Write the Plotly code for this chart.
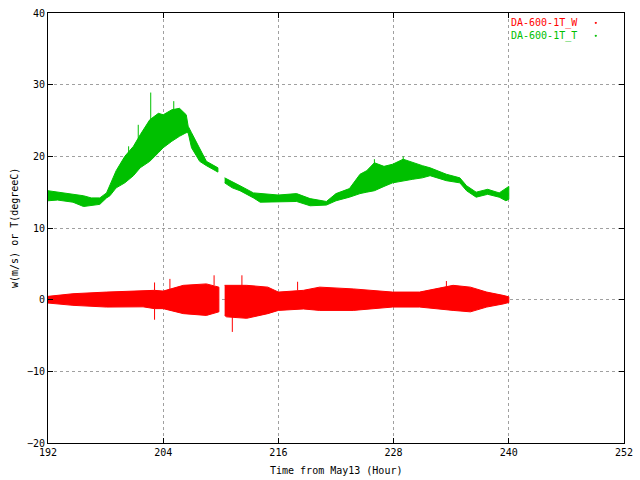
import plotly.graph_objects as go

# T series (green): band of the noisy trace
t_hours = [192.0, 193.0, 194.6, 195.7, 196.5, 197.4, 198.1, 198.45, 199.1, 200.0,
           200.9, 201.6, 202.6, 203.5, 204.0, 204.9, 205.7, 206.4, 206.6, 206.95,
           207.8, 208.5, 209.7, 209.9, 210.4, 211.2, 212.0, 213.4, 214.1, 215.4,
           216.0, 217.9, 219.3, 221.0, 222.0, 223.4, 224.5, 225.2, 226.0, 227.0,
           227.9, 229.0, 230.0, 231.0, 231.8, 233.5, 234.9, 235.6, 236.6, 237.8,
           239.0, 239.7, 240.0]
t_low = [13.8, 13.9, 13.6, 13.0, 13.1, 13.3, 14.2, 14.5, 15.6, 16.3,
         17.3, 18.4, 19.3, 20.5, 21.2, 22.1, 22.8, 23.3, 23.3, 21.2,
         19.3, 18.7, 17.8, None, 16.3, 15.6, 15.2, 14.2, 13.6, 13.6,
         13.6, 13.7, 13.1, 13.2, 13.8, 14.3, 14.8, 15.0, 15.2, 15.8,
         16.3, 16.6, 16.8, 17.0, 17.3, 16.6, 16.3, 15.2, 14.3, 14.7,
         14.3, 13.8, 14.0]
t_high = [15.2, 15.0, 14.7, 14.5, 14.2, 14.2, 14.9, 15.9, 18.0, 20.0,
          21.4, 23.0, 25.1, 26.0, 25.8, 26.5, 26.7, 25.8, 24.2, 23.3,
          21.2, 19.3, 18.4, None, 17.0, 16.5, 15.9, 14.9, 14.8, 14.6,
          14.6, 14.8, 14.1, 13.7, 14.8, 15.5, 17.5, 18.0, 19.1, 18.6,
          18.9, 19.6, 19.1, 18.7, 18.4, 17.5, 17.0, 15.9, 15.0, 15.4,
          14.9, 15.6, 15.8]

# W series (red)
w_hours = [192.0, 194.6, 198.1, 201.9, 203.1, 204.0, 206.1, 208.5, 209.8, 209.9,
           210.4, 210.6, 212.7, 214.9, 216.0, 218.6, 220.3, 223.8, 227.9, 230.7,
           234.2, 236.0, 237.7, 239.4, 240.0]
w_low = [-0.47, -0.79, -1.03, -1.0, -1.25, -1.25, -1.95, -2.2, -1.7, None,
         -2.2, -2.4, -2.6, -1.95, -1.5, -1.3, -1.5, -1.5, -1.03, -1.03,
         -1.5, -1.7, -1.03, -0.6, -0.4]
w_high = [0.46, 0.83, 1.06, 1.3, 1.3, 1.2, 2.0, 2.2, 1.75, None,
          2.0, 2.0, 2.0, 1.75, 1.06, 1.3, 1.75, 1.5, 1.06, 1.06,
          2.0, 1.75, 1.06, 0.6, 0.4]

# isolated spikes sticking out of the bands
t_spike_hours = [200.4, 201.4, 202.7, 205.1, 226.0, 229.0]
t_spike_base = [20.0, 22.5, 25.0, 26.5, 18.5, 19.0]
t_spike_top = [21.4, 24.4, 28.9, 27.7, 19.6, 20.0]
w_spike_hours = [203.1, 203.1, 204.7, 209.3, 211.2, 212.2, 218.0, 233.5]
w_spike_base = [1.3, -1.25, 1.2, 2.0, -2.4, 2.0, 1.3, 1.8]
w_spike_top = [2.4, -2.8, 2.9, 3.4, -4.5, 3.4, 2.5, 2.6]

x_ticks = [192, 204, 216, 228, 240, 252]
y_ticks = [-20, -10, 0, 10, 20, 30, 40]

RED = "#ff0000"
GREEN = "#00c000"
FONT = "DejaVu Sans Mono"


def segments(hours, lo, hi):
    """split a band at the None gaps"""
    segs, cur = [], ([], [], [])
    for h, a, b in zip(hours, lo, hi):
        if a is None or b is None:
            if cur[0]:
                segs.append(cur)
            cur = ([], [], [])
            continue
        cur[0].append(h)
        cur[1].append(a)
        cur[2].append(b)
    if cur[0]:
        segs.append(cur)
    return segs


def spikes(hours, base, top):
    xs, ys = [], []
    for h, b, t in zip(hours, base, top):
        xs += [h, h, None]
        ys += [b, t, None]
    return xs, ys


fig = go.Figure()

for hours, lo, hi, col in [(w_hours, w_low, w_high, RED), (t_hours, t_low, t_high, GREEN)]:
    for hs, los, his in segments(hours, lo, hi):
        fig.add_trace(go.Scatter(x=hs + hs[::-1], y=his + los[::-1], mode="lines",
                                 fill="toself", fillcolor=col,
                                 line=dict(color=col, width=1),
                                 showlegend=False, hoverinfo="skip"))

for hours, base, top, col in [(w_spike_hours, w_spike_base, w_spike_top, RED),
                              (t_spike_hours, t_spike_base, t_spike_top, GREEN)]:
    sx, sy = spikes(hours, base, top)
    fig.add_trace(go.Scatter(x=sx, y=sy, mode="lines", line=dict(color=col, width=1),
                             showlegend=False, hoverinfo="skip"))

axis_style = dict(
    showline=True, linecolor="black", linewidth=1, mirror="allticks",
    ticks="inside", ticklen=5, tickcolor="black",
    showgrid=True, gridcolor="#a0a0a0", griddash="dot", gridwidth=1,
    zeroline=False, tickfont=dict(family=FONT, size=10, color="black"),
)

fig.update_xaxes(range=[192, 252], tickvals=x_ticks, **axis_style)
fig.update_yaxes(range=[-20, 40], tickvals=y_ticks, **axis_style)

# gnuplot-style key, top right
key = [("DA-600-1T_W", RED, 0.977), ("DA-600-1T_T", GREEN, 0.947)]
for label, col, yp in key:
    fig.add_annotation(x=0.8, y=yp, xref="paper", yref="paper", text=label,
                       showarrow=False, xanchor="left", yanchor="middle",
                       font=dict(family=FONT, size=10, color=col))
    fig.add_shape(type="rect", xref="paper", yref="paper",
                  x0=0.950, x1=0.952, y0=yp - 0.001, y1=yp + 0.001,
                  line=dict(color=col, width=1), fillcolor=col)

fig.add_annotation(x=0.5, y=-0.065, xref="paper", yref="paper",
                   text="Time from May13 (Hour)", showarrow=False,
                   yanchor="middle", font=dict(family=FONT, size=10, color="black"))
fig.add_annotation(x=-0.059, y=0.5, xref="paper", yref="paper",
                   text="w(m/s) or T(degreeC)", showarrow=False, textangle=-90,
                   xanchor="center", font=dict(family=FONT, size=10, color="black"))

fig.update_layout(
    width=640, height=480,
    margin=dict(l=48, r=16, t=7, b=37),
    paper_bgcolor="white", plot_bgcolor="white",
    showlegend=False,
)

# drop the page margin so the 640x480 figure sits at the window's corner
fig.write_html("out.html", config={"displayModeBar": False},
               post_script="document.body.style.margin='0';document.body.style.overflow='hidden';")
